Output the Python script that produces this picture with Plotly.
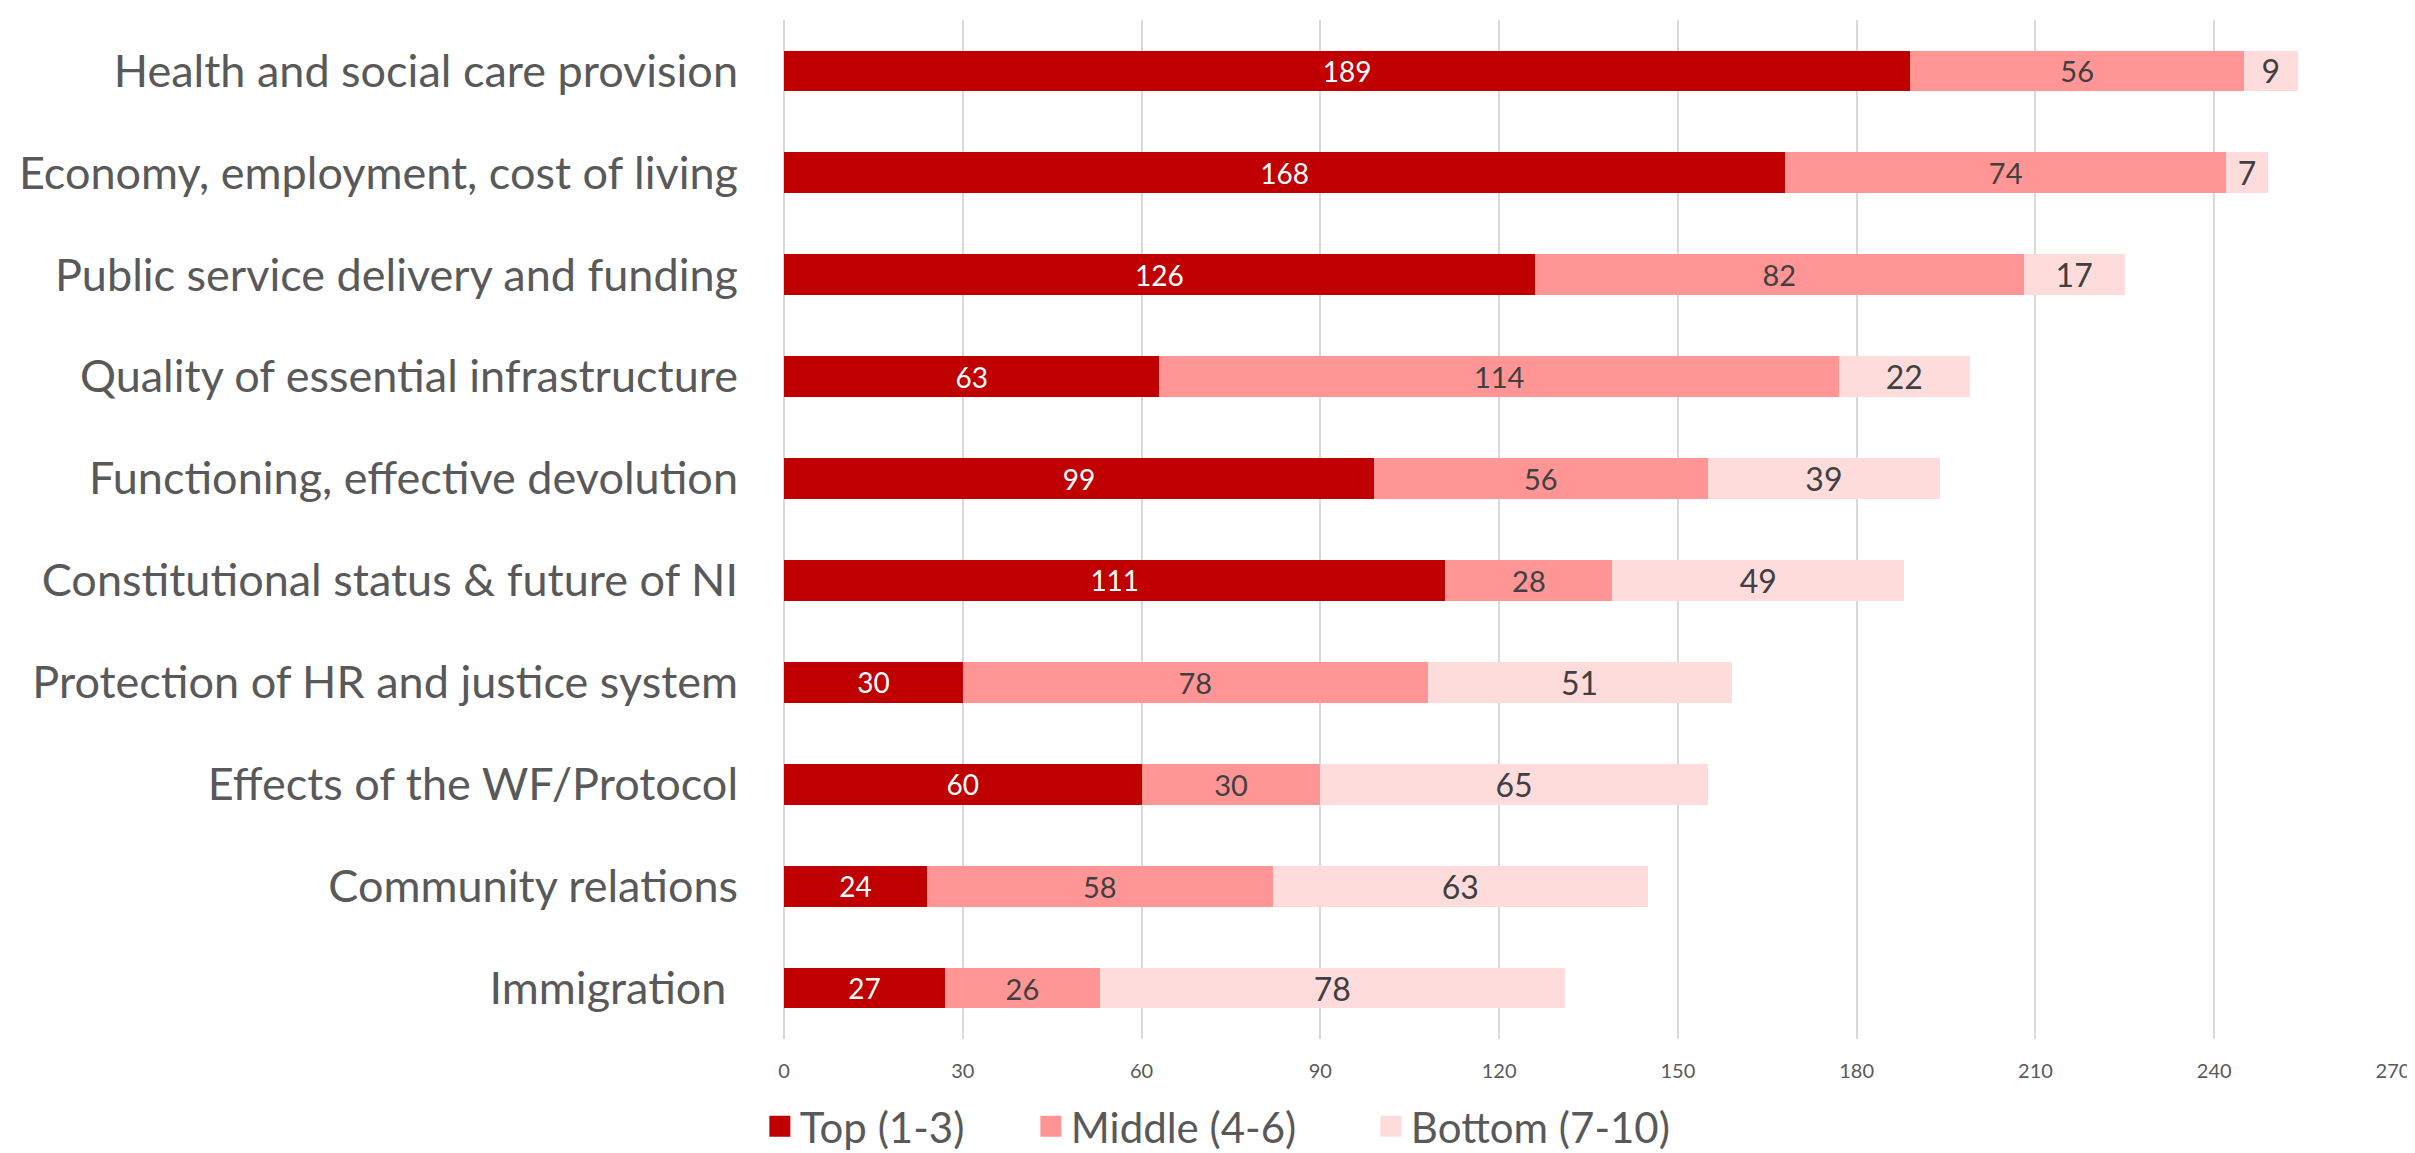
import plotly.graph_objects as go

categories = [
    "Health and social care provision",
    "Economy, employment, cost of living",
    "Public service delivery and funding",
    "Quality of essential infrastructure",
    "Functioning, effective devolution",
    "Constitutional status & future of NI",
    "Protection of HR and justice system",
    "Effects of the WF/Protocol",
    "Community relations",
    "Immigration ",
]
top_vals = [189, 168, 126, 63, 99, 111, 30, 60, 24, 27]
middle_vals = [56, 74, 82, 114, 56, 28, 78, 30, 58, 26]
bottom_vals = [9, 7, 17, 22, 39, 49, 51, 65, 63, 78]
series_names = ["Top (1-3)", "Middle (4-6)", "Bottom (7-10)"]
x_ticks = [0, 30, 60, 90, 120, 150, 180, 210, 240, 270]

FONT = "Lato"
colors = ["#C00000", "#FF9595", "#FFDCDC"]
text_colors = ["#FFFFFF", "#404040", "#404040"]
text_sizes = [28, 29, 32]
legend_widths = [226, 295, 280]

fig = go.Figure()
for name, vals, c, tc, ts in zip(series_names, [top_vals, middle_vals, bottom_vals],
                                 colors, text_colors, text_sizes):
    fig.add_trace(go.Bar(
        y=categories, x=vals, name=name, orientation="h",
        marker=dict(color=c, line=dict(width=0)),
        text=vals, texttemplate="%{x}", textposition="inside",
        insidetextanchor="middle", constraintext="none", textangle=0,
        textfont=dict(family=FONT, size=ts, color=tc),
        showlegend=False,
    ))

# legend entries with larger square swatches
for name, c, lw in zip(series_names, colors, legend_widths):
    fig.add_trace(go.Scatter(
        x=[None], y=[None], mode="markers", name=name,
        legendwidth=lw,
        marker=dict(symbol="square", size=16, color=c, line=dict(color=c, width=5)),
    ))

fig.update_layout(
    width=2415, height=1153,
    barmode="stack", bargap=0.6,
    paper_bgcolor="white", plot_bgcolor="white",
    margin=dict(l=776, r=30, t=12, b=122, autoexpand=False),
    font=dict(family=FONT, color="#595959"),
    legend=dict(orientation="h", x=-0.015, xanchor="left",
                yref="container", y=0.030, yanchor="middle",
                font=dict(family=FONT, size=42, color="#595959"),
                traceorder="normal", itemwidth=30),
    xaxis=dict(range=[0, 270], tickvals=x_ticks, showgrid=True, gridcolor="#D9D9D9",
               gridwidth=1.5, zeroline=True, zerolinecolor="#D9D9D9", zerolinewidth=1.5,
               tickfont=dict(family=FONT, size=20, color="#595959"), ticks="",
               ticklabelstandoff=18, showline=False),
    yaxis=dict(type="category", autorange="reversed", showgrid=False,
               tickfont=dict(family=FONT, size=45, color="#595959"), ticks="",
               ticklabelstandoff=45, showline=False),
)

fig.write_html("out.html")
